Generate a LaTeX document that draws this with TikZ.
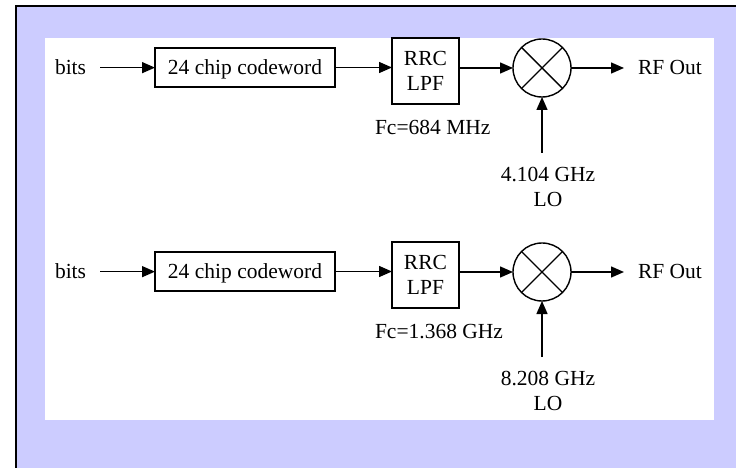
\documentclass[tikz,border=0pt]{standalone}
\usepackage{fontspec}
\setmainfont{Liberation Serif}
\usetikzlibrary{arrows.meta}
\definecolor{lav}{HTML}{CCCCFF}
\begin{document}
\begin{tikzpicture}[x=1bp,y=-1bp,
  every node/.style={font=\fontsize{21.5bp}{25.5bp}\selectfont, inner sep=0pt, outer sep=0pt},
  blk/.style={draw, line width=1.4bp, align=center},
  arr/.style={line width=1.4bp, -{Triangle[length=13bp,width=11bp]}},
  mix/.style={draw, circle, line width=1.4bp, minimum size=58bp},
  xline/.style={line width=1.4bp},
  lbl/.style={align=center}]
\useasboundingbox (0,0) rectangle (736,468);
\fill[lav] (15,5) rectangle (736,468);
\draw[line width=2bp] (16,468) -- (16,6) -- (736,6);
\fill[white] (45,38) rectangle (714,420);
\foreach \dy/\fc/\lo/\i in {0/{Fc=684 MHz}/{4.104 GHz}/1, 204/{Fc=1.368 GHz}/{8.208 GHz}/2}{
\begin{scope}[shift={(0,\dy)}]
  \node[anchor=base west] (bits\i) at (55,75) {bits};
  \node[blk, text depth=0pt, minimum width=180bp, minimum height=39bp] (cw\i) at (245,67.5) {24 chip codeword};
  \node[blk, minimum width=67bp, minimum height=66bp] (rrc\i) at (425.5,71) {RRC\\LPF};
  \node[mix] (m\i) at (542,68) {};
  \draw[xline] (m\i.north east) -- (m\i.south west) (m\i.north west) -- (m\i.south east);
  \node[anchor=base west] (rf\i) at (638,75) {RF Out};
  \node[anchor=base west] (fc\i) at (375,135) {\fc};
  \coordinate (lo\i) at (542,153);
  \node[lbl] (lot\i) at (548,187) {\lo\\LO};
  \draw[arr, shorten <=14bp] (bits\i.east) -- (bits\i.east -| cw\i.west);
  \draw[arr] (cw\i.east) -- (cw\i.east -| rrc\i.west);
  \draw[arr] (m\i.west -| rrc\i.east) -- (m\i.west);
  \draw[arr, shorten >=14bp] (m\i.east) -- (m\i.east -| rf\i.west);
  \draw[arr] (lo\i) -- (m\i.south);
\end{scope}
}
\end{tikzpicture}
\end{document}
